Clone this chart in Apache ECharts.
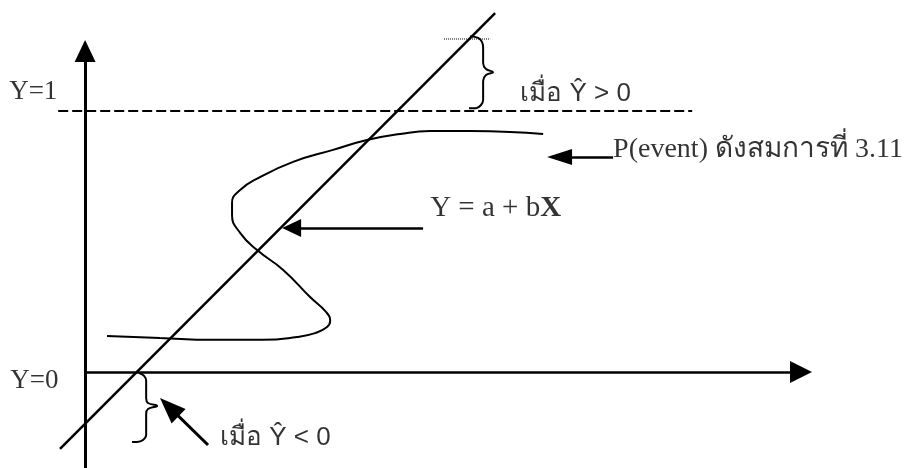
<!DOCTYPE html>
<html>
<head>
<meta charset="utf-8">
<script src="https://cdn.jsdelivr.net/npm/echarts@6/dist/echarts.min.js"></script>
<style>
html, body { margin: 0; padding: 0; background: #fff; }
#chart { width: 907px; height: 468px; }
</style>
</head>
<body>
<div id="chart"></div>
<script>
// units: Y=0 is the x axis, Y=1 the dashed line, X uses the same unit length
var straightLine = [[-0.096, -0.295], [1.571, 1.375]];
var sCurve = [
  [0.084, 0.138], [0.287, 0.130], [0.490, 0.123], [0.682, 0.123], [0.812, 0.134],
  [0.881, 0.149], [0.927, 0.172], [0.939, 0.195], [0.923, 0.230], [0.862, 0.287],
  [0.759, 0.391], [0.659, 0.467], [0.594, 0.533], [0.563, 0.602], [0.563, 0.648],
  [0.594, 0.697], [0.663, 0.743], [0.797, 0.805], [0.950, 0.851], [1.080, 0.889],
  [1.207, 0.912], [1.322, 0.923], [1.475, 0.923], [1.628, 0.920], [1.755, 0.912]
];
var upperLimit = [[-0.103, 1], [2.326, 1]];
var topTick = [[1.375, 1.276], [1.552, 1.276]];
var upperBrace = [
  [1.475, 1.287], [1.506, 1.280], [1.521, 1.264], [1.525, 1.241], [1.525, 1.184],
  [1.536, 1.161], [1.563, 1.149], [1.536, 1.138], [1.525, 1.115], [1.525, 1.042],
  [1.517, 1.023], [1.498, 1.011], [1.471, 1.011]
];
var lowerBrace = [
  [0.207, -0.004], [0.226, -0.015], [0.234, -0.034], [0.234, -0.100], [0.241, -0.119],
  [0.276, -0.130], [0.241, -0.142], [0.234, -0.161], [0.234, -0.241], [0.222, -0.261],
  [0.199, -0.268], [0.180, -0.268]
];
// x axis first, then the three pointer arrows
var arrowTails = [[0, 0], [2.023, 0.824], [1.295, 0.552], [0.471, -0.280]];
var arrowTips = [[2.785, 0], [1.770, 0.824], [0.755, 0.552], [0.287, -0.100]];
var labelTexts = ['Y=1', 'Y=0', 'เมื่อ Ŷ > 0', 'P(event) ดังสมการที่ 3.11', 'Y = a + b{b|X}', 'เมื่อ Ŷ < 0'];
var labelAnchors = [[-0.291, 1.073], [-0.287, -0.035], [1.667, 1.065], [2.023, 0.851], [1.322, 0.628], [0.517, -0.253]];

var PX = 261; // pixels per unit on both axes
var serif = '"Liberation Serif", "Times New Roman", serif';
var sans = '"Liberation Sans", Arial, sans-serif';
var labelFonts = [serif, serif, sans, serif, serif, sans];
var labelSizes = [27, 27, 26, 28, 29, 26];
var headSizes = [[22, 22], [16, 25], [18, 19], [20, 26]];
var arrowWidths = [2.5, 2.5, 2.5, 3];

var chart = echarts.init(document.getElementById('chart'));

function curve(data, width, smooth, type) {
  return {
    type: 'line',
    data: data,
    symbol: 'none',
    smooth: smooth,
    clip: false,
    silent: true,
    lineStyle: { color: '#000', width: width, type: type || 'solid' }
  };
}

// markLine draws the head centred on the end point, so pull the end back half a head
var arrowLines = arrowTails.map(function (tail, i) {
  var tip = arrowTips[i];
  var dx = tip[0] - tail[0], dy = tip[1] - tail[1];
  var d = Math.sqrt(dx * dx + dy * dy);
  var back = headSizes[i][1] / 2 / PX;
  var end = [tip[0] - dx / d * back, tip[1] - dy / d * back];
  return [
    { coord: tail, symbol: 'none', lineStyle: { width: arrowWidths[i] } },
    { coord: end, symbol: 'triangle', symbolSize: headSizes[i] }
  ];
});

var labelData = labelTexts.map(function (t, i) {
  return {
    value: labelAnchors[i],
    label: {
      formatter: t,
      fontFamily: labelFonts[i],
      fontSize: labelSizes[i],
      rich: { b: { fontFamily: labelFonts[i], fontSize: labelSizes[i], fontWeight: 'bold' } }
    }
  };
});

var option = {
  backgroundColor: '#fff',
  animation: false,
  grid: { left: 0, right: 0, top: 51, bottom: 0 },
  xAxis: {
    type: 'value',
    min: -0.326, max: 3.149,
    axisLine: { show: false },
    axisTick: { show: false },
    axisLabel: { show: false },
    splitLine: { show: false }
  },
  yAxis: {
    type: 'value',
    min: -0.368, max: 1.230,
    axisLine: { show: true, onZero: true, symbol: ['none', 'triangle'], symbolSize: [21, 22],
      lineStyle: { color: '#000', width: 3 } },
    axisTick: { show: false },
    axisLabel: { show: false },
    splitLine: { show: false }
  },
  series: [
    curve(upperLimit, 2, false, [10, 4]),
    curve(topTick, 1, false, 'dotted'),
    curve(straightLine, 2.5, false),
    curve(sCurve, 2, 0.5),
    curve(upperBrace, 2, 0.4),
    curve(lowerBrace, 2, 0.4),
    {
      type: 'line',
      data: [],
      silent: true,
      markLine: {
        silent: true,
        symbol: ['none', 'triangle'],
        label: { show: false },
        lineStyle: { color: '#000', width: 2.5, type: 'solid' },
        emphasis: { disabled: true },
        data: arrowLines
      }
    },
    {
      type: 'scatter',
      data: labelData,
      symbolSize: 0,
      silent: true,
      clip: false,
      label: { show: true, position: 'right', distance: 0, color: '#000', align: 'left', verticalAlign: 'middle' }
    }
  ]
};

chart.setOption(option);
</script>
</body>
</html>
